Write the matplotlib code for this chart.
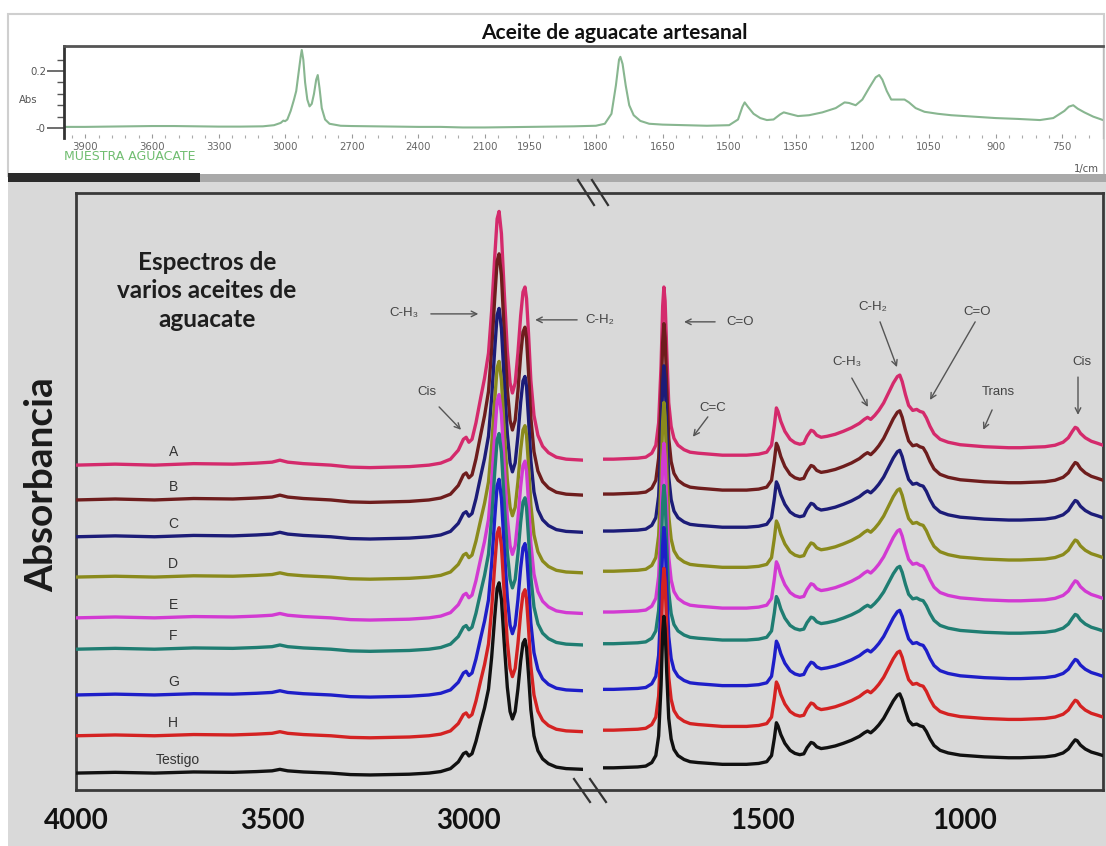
import numpy as np
import matplotlib
matplotlib.use("Agg")
import matplotlib.pyplot as plt
from matplotlib.patches import Rectangle
from matplotlib.lines import Line2D

plt.rcParams['font.family'] = ['Lato', 'DejaVu Sans']

# ---------------- data ----------------
# Reference spectrum (top panel): wavenumber (1/cm) and absorbance
ref_wn = [3996, 3900, 3800, 3700, 3600, 3500, 3400, 3300, 3200, 3100, 3050, 3020,
          3008, 3000, 2990, 2975, 2960, 2950, 2940, 2930, 2925, 2918, 2910, 2900,
          2890, 2880, 2870, 2860, 2853, 2845, 2835, 2820, 2800, 2750, 2700, 2600,
          2500, 2400, 2300, 2200, 2100, 2000, 1950, 1900, 1850, 1800, 1780, 1765,
          1755, 1748, 1745, 1740, 1733, 1725, 1715, 1700, 1680, 1650, 1600, 1550,
          1500, 1480, 1470, 1465, 1458, 1445, 1430, 1415, 1400, 1385, 1377, 1365,
          1345, 1320, 1290, 1260, 1240, 1230, 1215, 1200, 1185, 1170, 1162, 1155,
          1145, 1135, 1120, 1105, 1095, 1080, 1060, 1030, 1000, 950, 900, 850,
          800, 770, 745, 735, 725, 715, 700, 680, 658]
ref_abs = [0.004, 0.004, 0.005, 0.006, 0.007, 0.007, 0.006, 0.005, 0.005, 0.006, 0.010, 0.018,
           0.026, 0.024, 0.030, 0.060, 0.100, 0.130, 0.190, 0.250, 0.274, 0.240, 0.160, 0.100,
           0.076, 0.085, 0.120, 0.170, 0.186, 0.140, 0.070, 0.030, 0.015, 0.008, 0.007, 0.006,
           0.005, 0.004, 0.004, 0.002, 0.002, 0.003, 0.004, 0.005, 0.006, 0.008, 0.015, 0.050,
           0.150, 0.240, 0.250, 0.225, 0.150, 0.080, 0.045, 0.025, 0.015, 0.012, 0.010, 0.008,
           0.010, 0.030, 0.075, 0.090, 0.075, 0.050, 0.035, 0.028, 0.030, 0.048, 0.055, 0.050,
           0.042, 0.045, 0.055, 0.070, 0.090, 0.088, 0.080, 0.100, 0.140, 0.178, 0.186, 0.170,
           0.130, 0.100, 0.100, 0.100, 0.090, 0.070, 0.057, 0.050, 0.045, 0.040, 0.035, 0.032,
           0.028, 0.035, 0.060, 0.075, 0.080, 0.068, 0.055, 0.040, 0.028]
ref_major_ticks = [3900, 3600, 3300, 3000, 2700, 2400, 2100, 1950, 1800, 1650,
                   1500, 1350, 1200, 1050, 900, 750]
ref_ytick_vals = [0.0, 0.2]
ref_ytick_labels = ["-0", "0.2"]

# Stacked spectra (bottom panel)
series_names = ["A", "B", "C", "D", "E", "F", "G", "H", "Testigo"]
series_colors = ["#d42a6c", "#6e1d1d", "#1c1c78", "#8a8a1c", "#d23ad2",
                 "#1f7d72", "#1e1ec8", "#d42222", "#111111"]
series_offsets = [0.653, 0.583, 0.509, 0.428, 0.346, 0.283, 0.191, 0.109, 0.034]
left_scale = [1.00, 0.97, 0.90, 0.85, 0.88, 0.85, 0.85, 0.82, 0.75]
right_scale = [1.00, 0.99, 0.96, 0.98, 0.98, 0.92, 0.94, 0.94, 0.88]

left_wn = [4000, 3900, 3800, 3700, 3600, 3540, 3500, 3480, 3460, 3420, 3350, 3300,
           3250, 3200, 3150, 3100, 3070, 3045, 3025, 3012, 3005, 2998, 2990, 2980,
           2968, 2958, 2948, 2940, 2932, 2926, 2921, 2915, 2908, 2900, 2893, 2887,
           2880, 2873, 2866, 2860, 2855, 2851, 2846, 2840, 2832, 2822, 2810, 2795,
           2775, 2750, 2707]
left_profile = [0.000, 0.002, 0.000, 0.003, 0.002, 0.004, 0.006, 0.010, 0.006, 0.003, 0.000, -0.004,
                -0.005, -0.004, -0.003, 0.000, 0.004, 0.012, 0.030, 0.052, 0.056, 0.046, 0.052, 0.085,
                0.135, 0.175, 0.225, 0.310, 0.420, 0.495, 0.510, 0.465, 0.350, 0.230, 0.165, 0.145,
                0.165, 0.225, 0.300, 0.348, 0.358, 0.335, 0.265, 0.170, 0.100, 0.060, 0.038, 0.025,
                0.016, 0.012, 0.010]

right_wn = [1896, 1870, 1840, 1810, 1790, 1775, 1765, 1758, 1752, 1748, 1745, 1742,
            1738, 1733, 1727, 1720, 1710, 1695, 1680, 1660, 1630, 1600, 1570, 1540,
            1510, 1490, 1478, 1471, 1466, 1462, 1455, 1445, 1432, 1420, 1408, 1398,
            1390, 1380, 1374, 1366, 1355, 1340, 1320, 1300, 1280, 1260, 1248, 1240,
            1232, 1222, 1212, 1200, 1188, 1176, 1166, 1160, 1154, 1146, 1138, 1128,
            1118, 1110, 1102, 1094, 1085, 1075, 1060, 1040, 1010, 980, 950, 920,
            890, 860, 830, 800, 775, 755, 742, 732, 725, 720, 712, 700,
            685, 670, 656]
right_profile = [0.012, 0.012, 0.013, 0.014, 0.016, 0.024, 0.040, 0.085, 0.200, 0.320, 0.358, 0.330,
                 0.230, 0.125, 0.078, 0.054, 0.040, 0.031, 0.026, 0.024, 0.022, 0.020, 0.020, 0.020,
                 0.022, 0.026, 0.040, 0.080, 0.115, 0.108, 0.088, 0.068, 0.052, 0.045, 0.042, 0.044,
                 0.058, 0.070, 0.068, 0.060, 0.056, 0.058, 0.062, 0.068, 0.075, 0.084, 0.092, 0.096,
                 0.092, 0.100, 0.110, 0.125, 0.145, 0.165, 0.178, 0.181, 0.168, 0.142, 0.120, 0.110,
                 0.112, 0.108, 0.106, 0.095, 0.078, 0.063, 0.052, 0.046, 0.041, 0.039, 0.037, 0.036,
                 0.035, 0.035, 0.036, 0.037, 0.040, 0.046, 0.055, 0.068, 0.076, 0.074, 0.064, 0.055,
                 0.048, 0.044, 0.040]

bottom_ticks_left = [4000, 3500, 3000]
bottom_ticks_right = [1500, 1000]

# ---------------- figure ----------------
W, H = 1106, 846
fig = plt.figure(figsize=(W / 100, H / 100), dpi=100)
fig.patch.set_facecolor("white")


def fx(x):
    return x / W


def fy(y):
    return 1 - y / H


# background panels
fig.add_artist(Rectangle((fx(8), 0), (W - 8) / W, fy(180), transform=fig.transFigure,
                         fc="#d9d9d9", ec="none", zorder=-10))
fig.add_artist(Rectangle((fx(8), fy(176)), (W - 10) / W, (176 - 14) / H, transform=fig.transFigure,
                         fc="white", ec="#cfcfcf", lw=1.5, zorder=-9))
fig.add_artist(Rectangle((fx(200), fy(182)), (W - 200) / W, 8 / H, transform=fig.transFigure,
                         fc="#a9a9a9", ec="none", zorder=-8))
fig.add_artist(Rectangle((fx(8), fy(182)), (200 - 8) / W, 9 / H, transform=fig.transFigure,
                         fc="#2b2b2b", ec="none", zorder=-7))

# ---------------- top panel ----------------
def fwd(x):
    x = np.asarray(x, dtype=float)
    return np.where(x >= 2000, x, 2 * x - 2000)


def inv(y):
    y = np.asarray(y, dtype=float)
    return np.where(y >= 2000, y, (y + 2000) / 2)


ax_top = fig.add_axes([fx(64), fy(138), (1103 - 64) / W, (138 - 46) / H])
ax_top.set_facecolor("white")
ax_top.set_xscale("function", functions=(fwd, inv))
ax_top.plot(ref_wn, ref_abs, color="#88b690", lw=1.5)
ax_top.set_xlim(3996, 658)
ax_top.set_ylim(-0.035, 0.288)
ax_top.set_xticks(ref_major_ticks)
ax_top.set_xticklabels([str(t) for t in ref_major_ticks])
minor_x = [t for t in range(3960, 2000, -60)] + [t for t in range(1980, 660, -30)]
ax_top.set_xticks(minor_x, minor=True)
ax_top.set_yticks(ref_ytick_vals)
ax_top.set_yticklabels(ref_ytick_labels)
ax_top.set_yticks([0.04, 0.08, 0.12, 0.16, 0.24], minor=True)
ax_top.tick_params(axis="x", which="major", direction="in", length=3, width=0.8,
                   color="#999999", labelsize=7.3, labelcolor="#666666", pad=3)
ax_top.tick_params(axis="x", which="minor", direction="in", length=2, width=0.8, color="#aaaaaa")
ax_top.tick_params(axis="y", which="major", direction="out", length=12, width=1.2,
                   color="#555555", labelsize=7.3, labelcolor="#555555", pad=1)
ax_top.tick_params(axis="y", which="minor", direction="out", length=5, width=1.0, color="#555555")
for lab in ax_top.get_xticklabels() + ax_top.get_yticklabels():
    lab.set_family("DejaVu Sans")
ax_top.spines["bottom"].set_visible(False)
ax_top.spines["left"].set_color("#333333")
ax_top.spines["left"].set_linewidth(2)
ax_top.spines["top"].set_color("#555555")
ax_top.spines["top"].set_linewidth(2)
ax_top.spines["right"].set_color("#bbbbbb")
ax_top.spines["right"].set_linewidth(1)

fig.text(fx(614), fy(33), "Aceite de aguacate artesanal", ha="center", va="center",
         fontsize=15, fontweight="bold", color="#111111")
fig.text(fx(28), fy(100), "Abs", ha="center", va="center", fontsize=7.3,
         color="#555555", family="DejaVu Sans")
fig.text(fx(64), fy(157), "MUESTRA AGUACATE", ha="left", va="center", fontsize=9,
         color="#70bd70", family="DejaVu Sans")
fig.text(fx(1086), fy(169), "1/cm", ha="center", va="center", fontsize=7.3,
         color="#555555", family="DejaVu Sans")

# ---------------- bottom panel ----------------
ax_frame = fig.add_axes([fx(76), fy(790), (1103 - 76) / W, (790 - 193) / H])
ax_frame.set_facecolor("none")
ax_frame.set_xticks([])
ax_frame.set_yticks([])
for sp in ax_frame.spines.values():
    sp.set_color("#3a3a3a")
    sp.set_linewidth(2)

ax_l = fig.add_axes([fx(76), fy(790), (583 - 76) / W, (790 - 193) / H])
ax_r = fig.add_axes([fx(603), fy(790), (1103 - 603) / W, (790 - 193) / H])
for ax in (ax_l, ax_r):
    ax.set_facecolor("none")
    for sp in ax.spines.values():
        sp.set_visible(False)
    ax.set_ylim(0, 1.2)
    ax.set_yticks([])
    ax.tick_params(axis="x", length=0, pad=13, labelsize=20)
ax_l.set_xlim(4000, 2707)
ax_r.set_xlim(1896, 656)
ax_l.set_xticks(bottom_ticks_left)
ax_r.set_xticks(bottom_ticks_right)
for ax in (ax_l, ax_r):
    for lab in ax.get_xticklabels():
        lab.set_fontweight("bold")
        lab.set_color("#111111")

lw_arr = np.asarray(left_wn)
lp_arr = np.asarray(left_profile)
rw_arr = np.asarray(right_wn)
rp_arr = np.asarray(right_profile)
for i, name in enumerate(series_names):
    off = series_offsets[i]
    ax_l.plot(lw_arr, off + left_scale[i] * lp_arr, color=series_colors[i], lw=2.4,
              solid_joinstyle="round", zorder=2 + i)
    ax_r.plot(rw_arr, off + right_scale[i] * rp_arr, color=series_colors[i], lw=2.4,
              solid_joinstyle="round", zorder=2 + i)
    ax_l.text(3752 if name != "Testigo" else 3740, off + 0.026, name, ha="center", va="center",
              fontsize=10, color="#333333", family=["Liberation Sans", "DejaVu Sans"], zorder=20)

fig.text(fx(42), fy(485), "Absorbancia", rotation=90, ha="center", va="center",
         fontsize=28, fontweight="bold", color="#1a1a1a")
fig.text(fx(207), fy(291), "Espectros de\nvarios aceites de\naguacate", ha="center",
         va="center", fontsize=17.5, fontweight="bold", linespacing=1.3, color="#1e1e1e")

# annotations
ann_font = dict(fontsize=9.5, color="#444444", family=["Liberation Sans", "DejaVu Sans"],
                ha="center", va="center", zorder=30)
arrow = dict(arrowstyle="->", color="#555555", lw=1.0, shrinkA=0, shrinkB=0)

ax_l.text(3163, 0.959, "C-H\u2083", **ann_font)
ax_l.annotate("", xy=(2974, 0.957), xytext=(3095, 0.957), arrowprops=arrow, zorder=30)
ax_l.text(2663, 0.945, "C-H\u2082", clip_on=False, **ann_font)
ax_l.annotate("", xy=(2829, 0.945), xytext=(2722, 0.945), arrowprops=arrow, zorder=30)
ax_l.text(3105, 0.80, "Cis", **ann_font)
ax_l.annotate("", xy=(3018, 0.724), xytext=(3074, 0.770), arrowprops=arrow, zorder=30)

ax_r.text(1556, 0.941, "C=O", **ann_font)
ax_r.annotate("", xy=(1695, 0.941), xytext=(1618, 0.941), arrowprops=arrow, zorder=30)
ax_r.text(1623, 0.768, "C=C", **ann_font)
ax_r.annotate("", xy=(1673, 0.71), xytext=(1636, 0.75), arrowprops=arrow, zorder=30)
ax_r.text(1226, 0.971, "C-H\u2082", **ann_font)
ax_r.annotate("", xy=(1167, 0.85), xytext=(1209, 0.941), arrowprops=arrow, zorder=30)
ax_r.text(1291, 0.86, "C-H\u2083", **ann_font)
ax_r.annotate("", xy=(1239, 0.77), xytext=(1279, 0.828), arrowprops=arrow, zorder=30)
ax_r.text(968, 0.961, "C=O", **ann_font)
ax_r.annotate("", xy=(1085, 0.784), xytext=(973, 0.941), arrowprops=arrow, zorder=30)
ax_r.text(916, 0.80, "Trans", **ann_font)
ax_r.annotate("", xy=(953, 0.724), xytext=(931, 0.764), arrowprops=arrow, zorder=30)
ax_r.text(708, 0.86, "Cis", **ann_font)
ax_r.annotate("", xy=(718, 0.754), xytext=(718, 0.83), arrowprops=arrow, zorder=30)

# axis-break marks
for (x0, y0, x1, y1) in [(578, 180, 594, 205), (592, 180, 608, 205),
                         (574, 779, 590, 802), (590, 779, 606, 802)]:
    fig.add_artist(Line2D([fx(x0), fx(x1)], [fy(y0), fy(y1)], transform=fig.transFigure,
                          color="#333333", lw=1.6, zorder=40))

fig.savefig("out.png", dpi=100, facecolor="white")
